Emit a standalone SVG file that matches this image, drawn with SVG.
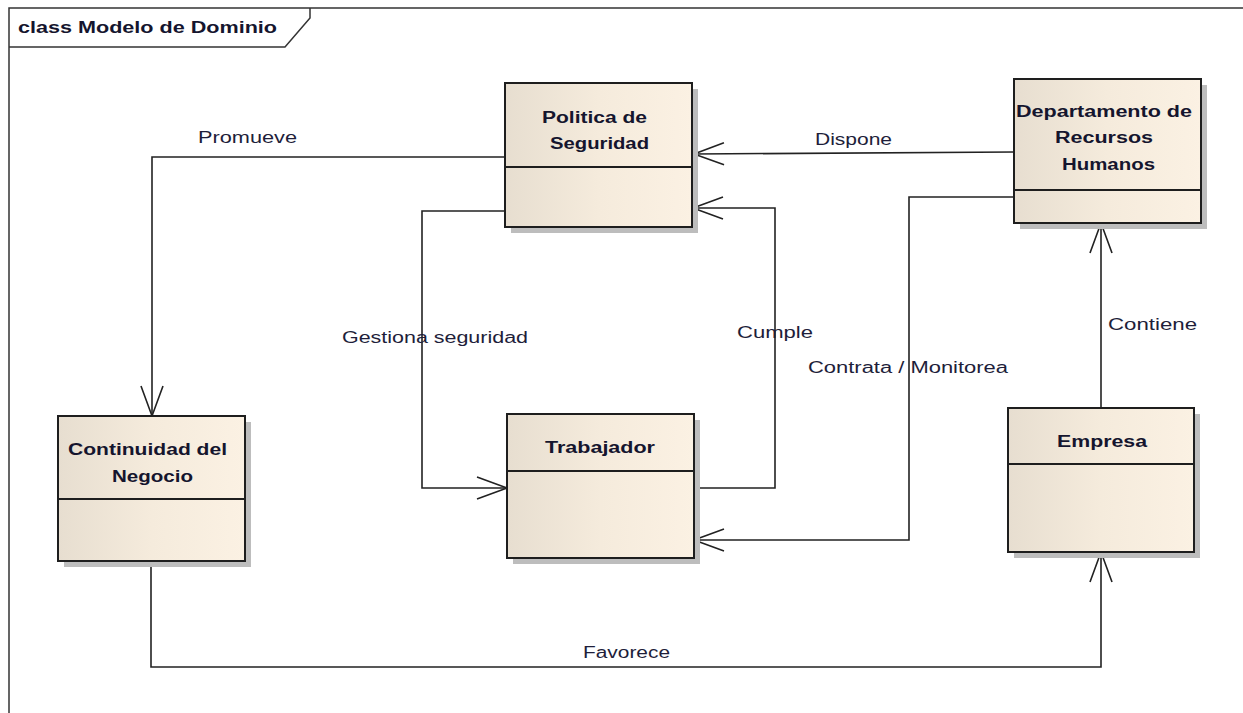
<svg xmlns="http://www.w3.org/2000/svg" width="1243" height="713" viewBox="0 0 1243 713">
  <defs>
    <linearGradient id="classFill" x1="0" y1="0" x2="1" y2="0">
      <stop offset="0" stop-color="#E7DED0"/>
      <stop offset="0.5" stop-color="#F5EBDC"/>
      <stop offset="1" stop-color="#FBF1E3"/>
    </linearGradient>
    <marker id="openArrow" markerUnits="userSpaceOnUse" viewBox="-32 -13 34 26" markerWidth="34" markerHeight="26" refX="0" refY="0" orient="auto" overflow="visible">
      <path d="M-30,-11 L0,0 L-30,11" fill="none" stroke="#222" stroke-width="1.6"/>
    </marker>
    <style>
      .frame { fill: none; stroke: #333; stroke-width: 1.5; }
      .shadow { fill: #BDBDBD; }
      .box { fill: url(#classFill); stroke: #1e1e1e; stroke-width: 2; }
      .divider { stroke: #1e1e1e; stroke-width: 2; }
      .title { font-family: "Liberation Sans", Arial, sans-serif; font-weight: bold; font-size: 16px; fill: #15152e; }
      .label { font-family: "Liberation Sans", Arial, sans-serif; font-size: 16px; fill: #1e1e3a; }
      .conn { fill: none; stroke: #222; stroke-width: 1.6; marker-end: url(#openArrow); }
    </style>
  </defs>

  <rect width="1243" height="713" fill="#ffffff"/>

  <!-- diagram frame with name tab -->
  <g id="frame">
    <path class="frame" d="M9,713 V8 H1243"/>
    <path class="frame" d="M9,47 H285 L310,18 V8"/>
    <text class="title" x="18" y="33" textLength="259" lengthAdjust="spacingAndGlyphs">class Modelo de Dominio</text>
  </g>

  <!-- connectors -->
  <g id="connectors">
    <path class="conn" d="M505,157 H152 V416"/>
    <path class="conn" d="M1014,152 L694,154"/>
    <path class="conn" d="M505,211 H422 V488 H507"/>
    <path class="conn" d="M694,488 H775 V208 H693"/>
    <path class="conn" d="M1014,197 H909 V540 H694"/>
    <path class="conn" d="M1101,408 V223"/>
    <path class="conn" d="M151,561 V667 H1101 V552"/>

    <text class="label" x="198" y="143" textLength="99" lengthAdjust="spacingAndGlyphs">Promueve</text>
    <text class="label" x="815" y="145" textLength="77" lengthAdjust="spacingAndGlyphs">Dispone</text>
    <text class="label" x="342" y="343" textLength="186" lengthAdjust="spacingAndGlyphs">Gestiona seguridad</text>
    <text class="label" x="737" y="338" textLength="76" lengthAdjust="spacingAndGlyphs">Cumple</text>
    <text class="label" x="808" y="373" textLength="200" lengthAdjust="spacingAndGlyphs">Contrata / Monitorea</text>
    <text class="label" x="1108" y="330" textLength="89" lengthAdjust="spacingAndGlyphs">Contiene</text>
    <text class="label" x="583" y="658" textLength="87" lengthAdjust="spacingAndGlyphs">Favorece</text>
  </g>

  <!-- Politica de Seguridad -->
  <g id="politica-seguridad">
    <rect class="shadow" x="511" y="89" width="187" height="144"/>
    <rect class="box" x="505" y="83" width="187" height="144"/>
    <line class="divider" x1="505" y1="167" x2="692" y2="167"/>
    <text class="title" x="542" y="123" textLength="105" lengthAdjust="spacingAndGlyphs">Politica de</text>
    <text class="title" x="550" y="149" textLength="99" lengthAdjust="spacingAndGlyphs">Seguridad</text>
  </g>

  <!-- Departamento de Recursos Humanos -->
  <g id="departamento-rrhh">
    <rect class="shadow" x="1020" y="85" width="187" height="144"/>
    <rect class="box" x="1014" y="79" width="187" height="144"/>
    <line class="divider" x1="1014" y1="190" x2="1201" y2="190"/>
    <text class="title" x="1016" y="117" textLength="176" lengthAdjust="spacingAndGlyphs">Departamento de</text>
    <text class="title" x="1055" y="143" textLength="98" lengthAdjust="spacingAndGlyphs">Recursos</text>
    <text class="title" x="1062" y="170" textLength="93" lengthAdjust="spacingAndGlyphs">Humanos</text>
  </g>

  <!-- Continuidad del Negocio -->
  <g id="continuidad-negocio">
    <rect class="shadow" x="64" y="422" width="187" height="145"/>
    <rect class="box" x="58" y="416" width="187" height="145"/>
    <line class="divider" x1="58" y1="499" x2="245" y2="499"/>
    <text class="title" x="68" y="455" textLength="159" lengthAdjust="spacingAndGlyphs">Continuidad del</text>
    <text class="title" x="112" y="482" textLength="81" lengthAdjust="spacingAndGlyphs">Negocio</text>
  </g>

  <!-- Trabajador -->
  <g id="trabajador">
    <rect class="shadow" x="513" y="420" width="187" height="144"/>
    <rect class="box" x="507" y="414" width="187" height="144"/>
    <line class="divider" x1="507" y1="471" x2="694" y2="471"/>
    <text class="title" x="545" y="453" textLength="110" lengthAdjust="spacingAndGlyphs">Trabajador</text>
  </g>

  <!-- Empresa -->
  <g id="empresa">
    <rect class="shadow" x="1014" y="414" width="186" height="144"/>
    <rect class="box" x="1008" y="408" width="186" height="144"/>
    <line class="divider" x1="1008" y1="464" x2="1194" y2="464"/>
    <text class="title" x="1057" y="447" textLength="90" lengthAdjust="spacingAndGlyphs">Empresa</text>
  </g>
</svg>
